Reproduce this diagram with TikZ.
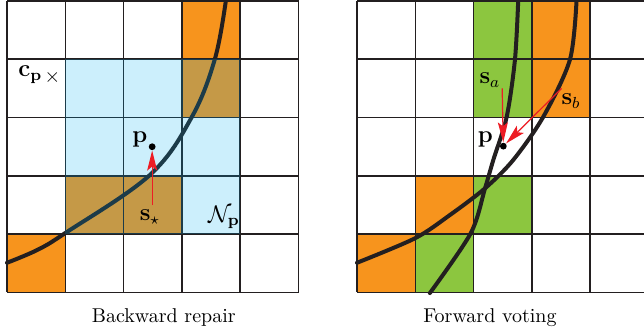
\documentclass[tikz,border=0pt]{standalone}
\usepackage{amsmath,amssymb}
\usetikzlibrary{arrows.meta,positioning}

\definecolor{cellorange}{HTML}{F7941D}
\definecolor{cellgreen}{HTML}{8CC63F}
\definecolor{hoodcyan}{HTML}{00AEEF}
\definecolor{gridgray}{HTML}{231F20}
\definecolor{votered}{HTML}{ED1C24}

\begin{document}
\begin{tikzpicture}[
  x=0.5pt, y=-0.5pt,
  gridline/.style={draw=gridgray, line width=0.8pt},
  orangecell/.style={fill=cellorange},
  greencell/.style={fill=cellgreen},
  hood/.style={fill=hoodcyan, fill opacity=0.2},
  surface/.style={draw=gridgray, line width=2pt, line cap=round},
  vote/.style={-{Stealth[length=10pt,width=5pt,inset=2pt]}, draw=votered, fill=votered, line width=0.6pt},
  sample/.style={circle, fill=black, inner sep=0pt, minimum size=3.4pt},
  lbl/.style={inner sep=0.5pt, font=\large},
  caption/.style={anchor=base}
]
\clip (0,0) rectangle (644,330);

% Backward repair
\begin{scope}[xshift=3.5pt, yshift=-0.5pt, x=29.15pt, y=-29.15pt]
  \foreach \c/\r in {3/0, 3/1, 1/3, 2/3, 0/4}
    \fill[orangecell] (\c,\r) rectangle ++(1,1);
  \foreach \i in {0,...,5} {
    \draw[gridline] (\i,0) -- (\i,5);
    \draw[gridline] (0,\i) -- (5,\i);
  }
  \draw[surface] plot[smooth, tension=0.6] coordinates
    {(0,4.49) (0.52,4.27) (1,3.98) (2.45,2.985) (3.17,1.99) (3.57,0.98) (3.76,-0.05)};
  % neighbourhood of p
  \fill[hood] (1,1) rectangle (4,4);

  \node (cpB) at (0.78,1.32) {$\times$};
  \node[lbl] (cplabelB) at (0.40,1.26) {$\mathbf{c}_\mathbf{p}$};
  \node[sample] (pB) at (2.49,2.5) {};
  \node[lbl] (plabelB) at (2.28,2.37) {$\mathbf{p}$};
  \node[lbl] (sstarB) at (2.45,3.71) {$\mathbf{s}_\star$};
  \node[lbl] (hoodB) at (3.72,3.71) {$\mathcal{N}_\mathbf{p}$};
  \coordinate (tailB) at (2.49,3.5);
  \draw[vote] (tailB) -- (pB);

  \node[caption] (capB) at (2.69,5.52) {Backward repair};
\end{scope}

% Forward voting
\begin{scope}[xshift=178.5pt, yshift=-0.5pt, x=29.15pt, y=-29.15pt]
  \foreach \c/\r in {3/0, 3/1, 1/3, 0/4}
    \fill[orangecell] (\c,\r) rectangle ++(1,1);
  \foreach \c/\r in {2/0, 2/1, 2/3, 1/4}
    \fill[greencell] (\c,\r) rectangle ++(1,1);
  \foreach \i in {0,...,5} {
    \draw[gridline] (\i,0) -- (\i,5);
    \draw[gridline] (0,\i) -- (5,\i);
  }
  \draw[surface] plot[smooth, tension=0.5] coordinates
    {(1.25,5.01) (1.95,3.985) (2.196,3.213) (2.338,2.727) (2.568,1.985) (2.71,1.0) (2.767,-0.05)};
  \draw[surface] plot[smooth, tension=0.5] coordinates
    {(0,4.49) (0.995,4.07) (1.595,3.67) (2.196,3.213) (2.68,2.727) (3.196,1.985) (3.654,1.0) (3.768,-0.05)};

  \node[sample] (pF) at (2.51,2.49) {};
  \node[lbl] (plabelF) at (2.20,2.37) {$\mathbf{p}$};
  \node[lbl] (saF) at (2.28,1.36) {$\mathbf{s}_a$};
  \node[lbl] (sbF) at (3.67,1.72) {$\mathbf{s}_b$};
  \coordinate (tailaF) at (2.49,1.50);
  \coordinate (tailbF) at (3.51,1.50);
  \draw[vote] (tailaF) -- (pF);
  \draw[vote] (tailbF) -- (pF);

  \node[caption] (capF) at (2.28,5.52) {Forward voting};
\end{scope}
\end{tikzpicture}
\end{document}
